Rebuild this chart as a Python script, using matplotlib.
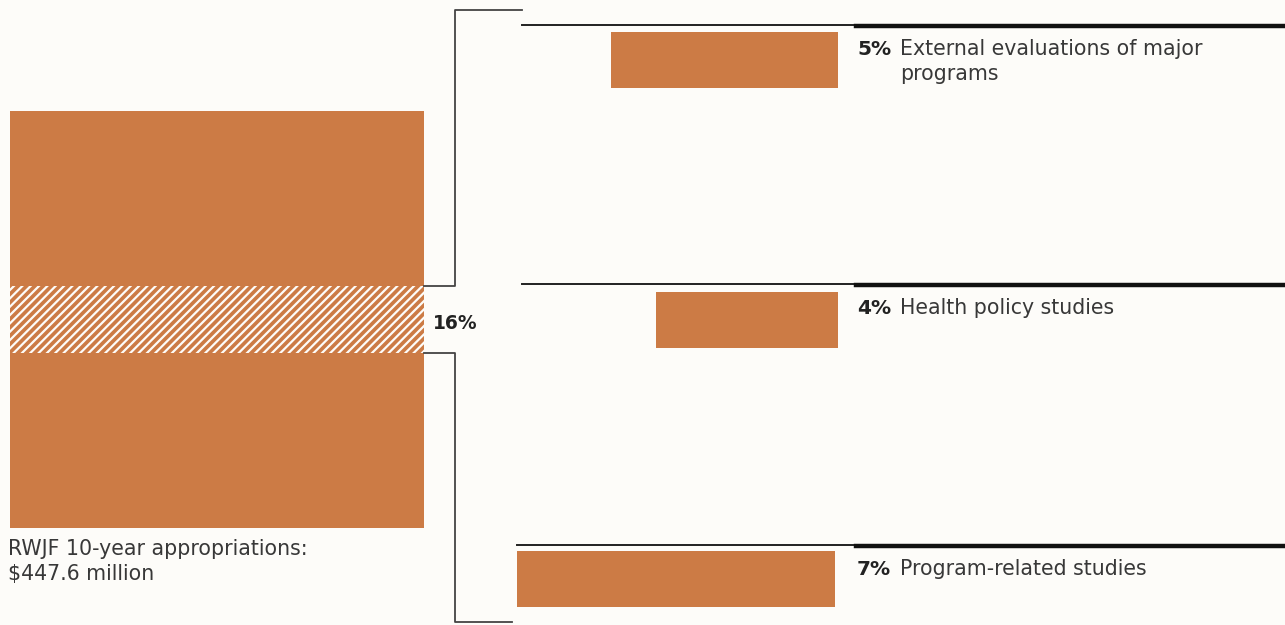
import matplotlib.pyplot as plt
import matplotlib as mpl

# Share of the 10-year appropriations
total_label = ["RWJF 10-year appropriations:", "$447.6 million"]
research_share = 16
other_share = 100 - research_share

# Breakdown of the 16%
items = ["External evaluations of major\nprograms", "Health policy studies", "Program-related studies"]
item_pct = [5, 4, 7]

orange = "#cc7b45"
bg = "#fdfcf9"
txt = "#383838"
mpl.rcParams['hatch.linewidth'] = 1.6
plt.rcParams['font.family'] = ['DejaVu Sans']

fig = plt.figure(figsize=(12.85, 6.25), dpi=100, facecolor=bg)
ax = fig.add_axes([0, 0, 1, 1])
ax.set_facecolor(bg)
ax.set_xlim(0, 1285)
ax.set_ylim(625, 0)
ax.axis('off')

# big square: stacked column, the 16% band hatched
px_per_pct = 4.17
sq_left, sq_right, sq_top = 10, 424, 111
seg = [other_share / 2, research_share, other_share / 2]
y = sq_top
for i, s in enumerate(seg):
    h = s * px_per_pct
    if i == 1:
        ax.bar((sq_left + sq_right) / 2, h, width=sq_right - sq_left, bottom=y,
               facecolor=orange, edgecolor=bg, linewidth=0, hatch='////')
    else:
        ax.bar((sq_left + sq_right) / 2, h, width=sq_right - sq_left, bottom=y,
               color=orange, linewidth=0)
    y += h
band_top = sq_top + seg[0] * px_per_pct
band_bot = band_top + seg[1] * px_per_pct

ax.text(433, 329, f"{research_share}%", fontsize=13.5,
        fontweight='bold', va='baseline', ha='left', color='#222222')
for k, line in enumerate(total_label):
    ax.text(8, 555 + 25 * k, line, fontsize=14.8, va='baseline', ha='left', color=txt)

# brackets
lc = '#444444'
ax.plot([424, 455, 455, 522], [band_top, band_top, 10, 10], color=lc, lw=1.3)
ax.plot([424, 455, 455, 512], [band_bot, band_bot, 622, 622], color=lc, lw=1.3)

# breakdown bars, right-aligned
scale = 45.5
bar_right = [838, 838, 835]
rule_y = [25, 284, 545]
bar_y = [59.5, 320, 578.5]
rule_left = [522, 522, 517]
for pct, label, ry, by, rl, br in zip(item_pct, items, rule_y, bar_y, rule_left, bar_right):
    w = pct * scale
    ax.barh(by, w, height=56, left=br - w, color=orange, linewidth=0)
    ax.plot([rl, 856], [ry, ry], color='#222222', lw=1.4)
    ax.plot([856, 1285], [ry + 1, ry + 1], color='#111111', lw=3.2)
    base = ry + 30
    ax.text(857, base, f"{pct}%", fontsize=14.5, fontweight='bold',
            va='baseline', ha='left', color='#222222')
    for k, line in enumerate(label.split("\n")):
        ax.text(900, base + 25 * k, line, fontsize=14.8, va='baseline', ha='left',
                color=txt)

fig.savefig('out.png', dpi=100, facecolor=bg)
